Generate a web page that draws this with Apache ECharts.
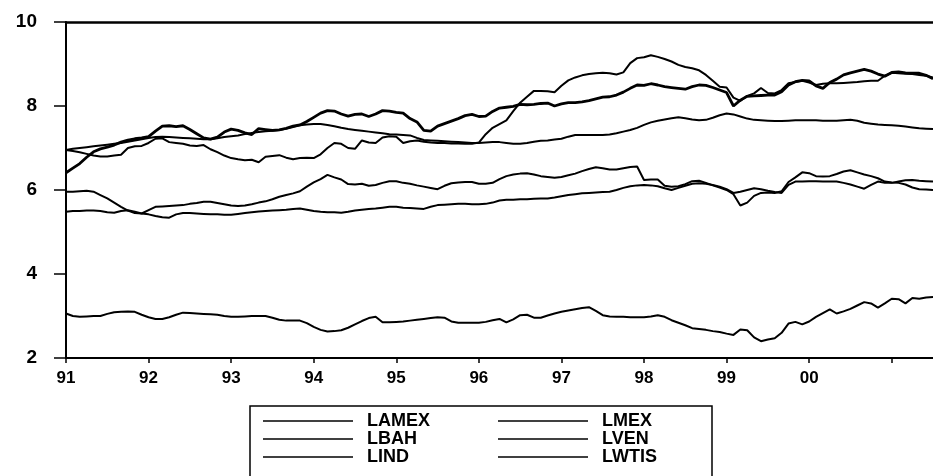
<!DOCTYPE html>
<html>
<head>
<meta charset="utf-8">
<script src="https://cdn.jsdelivr.net/npm/echarts@6/dist/echarts.min.js"></script>
<style>
html,body{margin:0;padding:0;background:#fff;}
#chart{width:933px;height:476px;}
</style>
</head>
<body>
<div id="chart"></div>
<script>
const months = [
"1991:01","1991:02","1991:03","1991:04","1991:05","1991:06","1991:07","1991:08","1991:09","1991:10","1991:11","1991:12",
"1992:01","1992:02","1992:03","1992:04","1992:05","1992:06","1992:07","1992:08","1992:09","1992:10","1992:11","1992:12",
"1993:01","1993:02","1993:03","1993:04","1993:05","1993:06","1993:07","1993:08","1993:09","1993:10","1993:11","1993:12",
"1994:01","1994:02","1994:03","1994:04","1994:05","1994:06","1994:07","1994:08","1994:09","1994:10","1994:11","1994:12",
"1995:01","1995:02","1995:03","1995:04","1995:05","1995:06","1995:07","1995:08","1995:09","1995:10","1995:11","1995:12",
"1996:01","1996:02","1996:03","1996:04","1996:05","1996:06","1996:07","1996:08","1996:09","1996:10","1996:11","1996:12",
"1997:01","1997:02","1997:03","1997:04","1997:05","1997:06","1997:07","1997:08","1997:09","1997:10","1997:11","1997:12",
"1998:01","1998:02","1998:03","1998:04","1998:05","1998:06","1998:07","1998:08","1998:09","1998:10","1998:11","1998:12",
"1999:01","1999:02","1999:03","1999:04","1999:05","1999:06","1999:07","1999:08","1999:09","1999:10","1999:11","1999:12",
"2000:01","2000:02","2000:03","2000:04","2000:05","2000:06","2000:07","2000:08","2000:09","2000:10","2000:11","2000:12",
"2001:01","2001:02","2001:03","2001:04","2001:05","2001:06","2001:07"
];

const yTicks = [2, 4, 6, 8, 10];

const LAMEX = [
5.96,5.96,5.97,5.98,5.96,5.88,5.80,5.70,5.60,5.51,5.45,5.44,
5.52,5.60,5.61,5.62,5.63,5.64,5.67,5.69,5.72,5.72,5.69,5.66,
5.63,5.62,5.63,5.66,5.70,5.73,5.78,5.84,5.88,5.92,5.97,6.08,
6.18,6.26,6.36,6.30,6.25,6.14,6.13,6.15,6.10,6.12,6.17,6.21,
6.21,6.17,6.15,6.11,6.08,6.05,6.02,6.10,6.16,6.18,6.19,6.19,
6.15,6.15,6.17,6.26,6.33,6.37,6.39,6.40,6.37,6.33,6.31,6.29,
6.31,6.35,6.39,6.45,6.50,6.54,6.52,6.49,6.49,6.52,6.55,6.56,
6.24,6.25,6.25,6.10,6.08,6.09,6.14,6.21,6.22,6.17,6.11,6.06,
6.00,5.90,5.63,5.70,5.86,5.93,5.94,5.93,5.97,6.19,6.30,6.42,
6.40,6.33,6.32,6.33,6.38,6.44,6.47,6.42,6.37,6.33,6.28,6.20,
6.18,6.17,6.13,6.06,6.02,6.01,6.00
];

const LMEX = [
6.41,6.52,6.63,6.78,6.91,6.98,7.02,7.07,7.14,7.19,7.22,7.24,
7.27,7.40,7.52,7.53,7.51,7.53,7.44,7.34,7.24,7.21,7.26,7.38,
7.45,7.42,7.36,7.32,7.46,7.44,7.42,7.43,7.47,7.52,7.55,7.63,
7.73,7.83,7.89,7.88,7.81,7.76,7.80,7.81,7.75,7.81,7.89,7.88,
7.85,7.83,7.70,7.62,7.42,7.40,7.52,7.58,7.64,7.70,7.77,7.80,
7.75,7.76,7.87,7.95,7.97,7.99,8.04,8.03,8.04,8.06,8.07,8.00,
8.05,8.08,8.08,8.10,8.13,8.17,8.21,8.22,8.26,8.33,8.42,8.50,
8.49,8.53,8.50,8.46,8.44,8.42,8.40,8.46,8.50,8.49,8.44,8.38,
8.32,8.00,8.14,8.23,8.24,8.25,8.26,8.26,8.34,8.50,8.58,8.61,
8.60,8.48,8.42,8.56,8.64,8.74,8.79,8.83,8.87,8.83,8.76,8.71,
8.80,8.81,8.79,8.78,8.78,8.73,8.65
];

const LBAH = [
6.95,6.98,7.00,7.02,7.04,7.06,7.08,7.10,7.12,7.15,7.18,7.21,
7.24,7.26,7.27,7.26,7.25,7.24,7.23,7.22,7.21,7.21,7.23,7.26,
7.28,7.30,7.33,7.36,7.38,7.40,7.41,7.43,7.46,7.50,7.54,7.56,
7.57,7.57,7.55,7.52,7.48,7.45,7.43,7.41,7.39,7.37,7.35,7.33,
7.32,7.31,7.30,7.24,7.19,7.18,7.17,7.16,7.15,7.14,7.13,7.12,
7.12,7.13,7.14,7.14,7.12,7.10,7.10,7.12,7.15,7.17,7.18,7.20,
7.22,7.27,7.31,7.31,7.31,7.31,7.31,7.32,7.35,7.39,7.43,7.48,
7.55,7.61,7.65,7.68,7.71,7.73,7.71,7.68,7.66,7.67,7.72,7.78,
7.82,7.80,7.75,7.70,7.67,7.66,7.65,7.64,7.64,7.65,7.66,7.66,
7.66,7.66,7.65,7.65,7.65,7.66,7.67,7.65,7.60,7.58,7.56,7.55,
7.54,7.53,7.51,7.49,7.47,7.46,7.45
];

const LVEN = [
6.95,6.93,6.90,6.86,6.82,6.80,6.80,6.82,6.84,7.00,7.04,7.05,
7.12,7.22,7.23,7.14,7.12,7.10,7.06,7.05,7.07,6.97,6.90,6.82,
6.76,6.73,6.71,6.72,6.66,6.79,6.81,6.83,6.77,6.73,6.76,6.77,
6.76,6.85,7.00,7.12,7.10,7.00,6.98,7.18,7.13,7.12,7.25,7.28,
7.27,7.12,7.16,7.18,7.15,7.13,7.12,7.12,7.11,7.11,7.10,7.10,
7.13,7.33,7.48,7.57,7.66,7.88,8.08,8.22,8.36,8.36,8.35,8.33,
8.48,8.61,8.68,8.73,8.76,8.78,8.79,8.78,8.75,8.80,9.02,9.14,
9.16,9.21,9.17,9.12,9.06,8.98,8.93,8.90,8.85,8.74,8.60,8.46,
8.44,8.20,8.12,8.24,8.30,8.43,8.31,8.30,8.38,8.54,8.57,8.60,
8.56,8.50,8.53,8.54,8.54,8.55,8.56,8.57,8.59,8.60,8.60,8.72,
8.79,8.78,8.77,8.76,8.74,8.72,8.68
];

const LIND = [
5.48,5.50,5.50,5.51,5.51,5.50,5.47,5.46,5.50,5.52,5.48,5.44,
5.42,5.38,5.35,5.34,5.42,5.45,5.45,5.44,5.43,5.42,5.42,5.41,
5.41,5.43,5.45,5.47,5.49,5.50,5.51,5.52,5.53,5.55,5.56,5.53,
5.50,5.48,5.47,5.47,5.46,5.48,5.51,5.53,5.55,5.56,5.58,5.60,
5.60,5.58,5.57,5.56,5.55,5.60,5.64,5.65,5.66,5.67,5.67,5.66,
5.66,5.67,5.70,5.75,5.77,5.77,5.78,5.78,5.79,5.80,5.80,5.82,
5.85,5.88,5.90,5.92,5.93,5.94,5.95,5.96,6.00,6.05,6.09,6.11,
6.12,6.11,6.09,6.04,6.00,6.05,6.10,6.15,6.16,6.15,6.12,6.08,
6.02,5.93,5.96,6.00,6.04,6.02,5.98,5.95,5.93,6.12,6.20,6.20,
6.21,6.21,6.20,6.20,6.20,6.17,6.13,6.08,6.03,6.12,6.20,6.17,
6.17,6.20,6.23,6.24,6.22,6.21,6.20
];

const LWTIS = [
3.06,3.00,2.98,2.99,3.00,3.00,3.05,3.09,3.10,3.11,3.10,3.03,
2.97,2.93,2.93,2.97,3.03,3.08,3.07,3.06,3.05,3.04,3.03,3.00,
2.98,2.98,2.99,3.00,3.00,3.00,2.96,2.91,2.89,2.89,2.89,2.83,
2.74,2.67,2.63,2.64,2.66,2.72,2.80,2.88,2.95,2.98,2.85,2.85,
2.86,2.87,2.89,2.91,2.93,2.95,2.97,2.96,2.87,2.84,2.84,2.84,
2.84,2.86,2.90,2.93,2.85,2.92,3.02,3.03,2.96,2.96,3.01,3.06,
3.10,3.13,3.16,3.19,3.21,3.12,3.02,2.99,2.98,2.98,2.97,2.97,
2.97,2.99,3.02,2.98,2.90,2.84,2.78,2.71,2.69,2.67,2.64,2.62,
2.58,2.55,2.68,2.66,2.49,2.40,2.44,2.47,2.60,2.82,2.86,2.80,
2.87,2.98,3.07,3.16,3.06,3.11,3.17,3.25,3.33,3.30,3.20,3.30,
3.41,3.40,3.30,3.43,3.41,3.44,3.45
];

const seriesNames = ["LAMEX", "LMEX", "LBAH", "LVEN", "LIND", "LWTIS"];
const seriesValues = [LAMEX, LMEX, LBAH, LVEN, LIND, LWTIS];
const seriesWidths = [2, 2.8, 2, 2, 2, 2];

const FONT = '"Liberation Sans", Arial, sans-serif';
const chart = echarts.init(document.getElementById('chart'), null, {renderer: 'canvas'});

const isJan = (idx) => idx % 12 === 0;

chart.setOption({
  backgroundColor: '#ffffff',
  animation: false,
  textStyle: {fontFamily: FONT},
  grid: {left: 66, right: 0, top: 22, bottom: 118, containLabel: false},
  xAxis: [{
    type: 'category',
    data: months,
    boundaryGap: false,
    axisLine: {show: true, lineStyle: {color: '#000', width: 2}},
    axisTick: {show: true, interval: (i) => isJan(i), length: 5, lineStyle: {color: '#000', width: 1.5}},
    axisLabel: {
      interval: (i) => isJan(i) && i < 120,
      formatter: (v) => v.slice(2, 4),
      margin: 12, fontSize: 17, fontWeight: 'bold', color: '#000', fontFamily: FONT
    },
    splitLine: {show: false}
  }, {
    type: 'category',
    data: months,
    position: 'top',
    boundaryGap: false,
    axisLine: {show: true, lineStyle: {color: '#000', width: 2.5}},
    axisTick: {show: false},
    axisLabel: {show: false},
    splitLine: {show: false}
  }],
  yAxis: {
    type: 'value',
    min: yTicks[0],
    max: yTicks[yTicks.length - 1],
    interval: 2,
    axisLine: {show: true, lineStyle: {color: '#000', width: 2}},
    axisTick: {show: true, inside: false, length: 12, lineStyle: {color: '#000', width: 1.5}},
    axisLabel: {
      margin: 29, fontSize: 19, fontWeight: 'bold', color: '#000', fontFamily: FONT,
      padding: [0, 0, 7, 0]
    },
    splitLine: {show: false}
  },
  legend: {
    show: true,
    left: 250,
    top: 406,
    width: 450,
    orient: 'horizontal',
    padding: [6, 10, 12, 13],
    itemGap: 0,
    itemWidth: 90,
    itemHeight: 1.5,
    icon: 'rect',
    borderColor: '#000',
    borderWidth: 1.5,
    selectedMode: false,
    textStyle: {
      fontFamily: FONT, fontSize: 18, fontWeight: 'bold', color: '#000',
      lineHeight: 18, padding: [0, 0, 0, 9]
    },
    data: seriesNames.map((n, k) => ({
      name: n,
      textStyle: {width: (k % 2 === 0) ? 131 : 100}
    }))
  },
  series: seriesNames.map((n, k) => ({
    name: n,
    type: 'line',
    data: seriesValues[k],
    showSymbol: false,
    symbol: 'none',
    smooth: false,
    color: '#000',
    lineStyle: {color: '#000', width: seriesWidths[k]},
    itemStyle: {color: '#000'},
    emphasis: {disabled: true}
  }))
});
</script>
</body>
</html>
